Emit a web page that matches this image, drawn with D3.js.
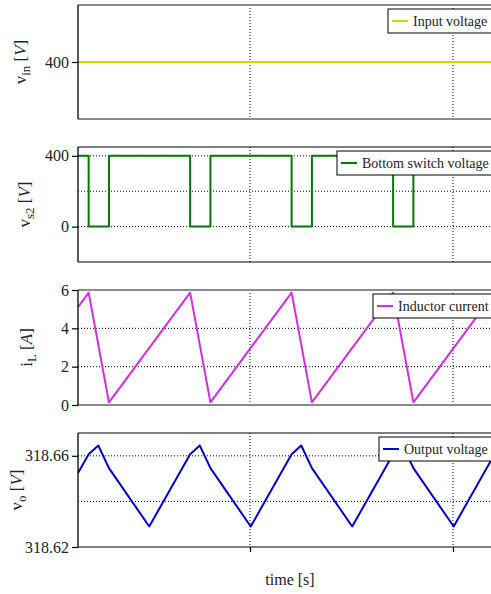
<!DOCTYPE html>
<style>
body { margin: 0; background: #fff; }
svg text { font-family: "Liberation Serif", "Times New Roman", "DejaVu Serif", serif; }
</style>
<svg width="491" height="594"></svg>
<script src="https://d3js.org/d3.v7.min.js"></script>
<script>
// time axis (arbitrary units, ticks unlabelled in the original)
const timeDomain = [3.05, 44.83];
const timeTicks = [20, 40];

// input voltage
const inTime = [3.05, 44.83];
const inVolts = [400, 400];

// bottom switch voltage (step after)
const swTime = [3.05, 4.1, 6.1, 14.1, 16.1, 24.1, 26.1, 34.1, 36.1, 44.1, 44.83];
const swVolts = [400, 0, 400, 0, 400, 0, 400, 0, 400, 0, 0];

// inductor current
const ilTime = [3.05, 4.1, 6.1, 14.1, 16.1, 24.1, 26.1, 34.1, 36.1, 44.1];
const ilAmps = [5.11, 5.86, 0.14, 5.86, 0.14, 5.86, 0.14, 5.86, 0.14, 5.86];

// output voltage
const voTime = [3.05, 4.1, 5.05, 6.1, 10.07, 14.1, 15.05, 16.1, 20.07, 24.1, 25.05, 26.1, 30.07, 34.1, 35.05, 36.1, 40.07, 44.1];
const voVolts = [318.6525, 318.6607, 318.6645, 318.6546, 318.629, 318.6607, 318.6645, 318.6546, 318.629,
                 318.6607, 318.6645, 318.6546, 318.629, 318.6607, 318.6645, 318.6546, 318.629, 318.6607];

const serif = '"Liberation Serif", "Times New Roman", "DejaVu Serif", serif';

const svg = d3.select("svg"),
      left = 78, right = 502;

const xScale = d3.scaleLinear().domain(timeDomain).range([left, right]);

const panels = [
	{ id: 'p1', top: 5, bottom: 119, domain: [350, 450], ticks: [400], grid: [400], fmt: d3.format('d'),
	  edge: '#8a8a8a', edgeW: 2, t: inTime, v: inVolts, color: '#c8dc00', step: false,
	  label: ['v', 'in', 'V'], labelX: 26, legend: 'Input voltage', legendX: 388 },
	{ id: 'p2', top: 147, bottom: 262, domain: [-200, 450], ticks: [0, 400], grid: [0, 200, 400], fmt: d3.format('d'),
	  edge: '#000', edgeW: 1.2, t: swTime, v: swVolts, color: '#007a00', step: true,
	  label: ['v', 's2', 'V'], labelX: 30, legend: 'Bottom switch voltage', legendX: 337 },
	{ id: 'p3', top: 290, bottom: 405, domain: [0, 6], ticks: [0, 2, 4, 6], grid: [2, 4], fmt: d3.format('d'),
	  edge: '#8a8a8a', edgeW: 2, t: ilTime, v: ilAmps, color: '#d22ee0', step: false,
	  label: ['i', 'L', 'A'], labelX: 32, legend: 'Inductor current', legendX: 373 },
	{ id: 'p4', top: 433, bottom: 547, domain: [318.62, 318.67], ticks: [318.62, 318.66], grid: [318.64, 318.66], fmt: d3.format('.2f'),
	  edge: '#000', edgeW: 1.2, t: voTime, v: voVolts, color: '#0000d0', step: false,
	  label: ['v', 'o', 'V'], labelX: 22, legend: 'Output voltage', legendX: 379 }
];

panels.forEach((p, i) => {
	const yScale = d3.scaleLinear().domain(p.domain).range([p.bottom, p.top]);
	const g = svg.append('g');

	svg.append('clipPath').attr('id', 'clip-' + p.id)
		.append('rect').attr('x', left).attr('y', p.top)
		.attr('width', right - left).attr('height', p.bottom - p.top);

	// dotted grid
	g.selectAll('.hgrid').data(p.grid).enter().append('line')
		.attr('x1', left).attr('x2', right)
		.attr('y1', (d) => yScale(d)).attr('y2', (d) => yScale(d))
		.attr('stroke', '#000').attr('stroke-width', 1).attr('stroke-dasharray', '1,2');
	g.selectAll('.vgrid').data(timeTicks).enter().append('line')
		.attr('x1', (d) => xScale(d)).attr('x2', (d) => xScale(d))
		.attr('y1', p.top).attr('y2', p.bottom)
		.attr('stroke', '#000').attr('stroke-width', 1).attr('stroke-dasharray', '1,2');

	// top / bottom frame
	[p.top, p.bottom].forEach((y) => {
		g.append('line').attr('x1', left).attr('x2', right).attr('y1', y).attr('y2', y)
			.attr('stroke', p.edge).attr('stroke-width', p.edgeW);
	});

	// series
	const pts = p.t.map((t, k) => ({ t, v: p.v[k] }));
	const line = d3.line()
		.x((d) => xScale(d.t))
		.y((d) => yScale(d.v))
		.curve(p.step ? d3.curveStepAfter : d3.curveLinear);
	g.append('path')
		.attr('clip-path', 'url(#clip-' + p.id + ')')
		.attr('fill', 'none')
		.attr('stroke', p.color)
		.attr('stroke-width', 2)
		.attr('stroke-linejoin', 'round')
		.attr('d', line(pts));

	// left axis
	const yAxis = d3.axisLeft(yScale).tickValues(p.ticks).tickFormat(p.fmt).tickSize(6).tickPadding(3);
	const ax = g.append('g').attr('transform', `translate(${left},0)`).call(yAxis)
		.attr('font-family', serif);
	ax.select('.domain').attr('d', `M0,${p.top}V${p.bottom}`).attr('stroke', '#000').attr('stroke-width', 1.3);
	ax.selectAll('.tick line').attr('stroke', '#000').attr('stroke-width', 1.2);
	ax.selectAll('.tick text').attr('font-size', 16).attr('fill', '#222');

	// y label
	const cy = (p.top + p.bottom) / 2;
	const lab = g.append('text')
		.attr('transform', `translate(${p.labelX},${cy}) rotate(-90)`)
		.attr('text-anchor', 'middle')
		.attr('font-family', serif)
		.attr('font-size', 17)
		.attr('fill', '#222');
	lab.append('tspan').text(p.label[0]);
	lab.append('tspan').attr('font-size', 13).attr('dy', 4).text(p.label[1]);
	lab.append('tspan').attr('dy', -4).text(' [');
	lab.append('tspan').attr('font-style', 'italic').text(p.label[2]);
	lab.append('tspan').text(']');

	// legend
	const lg = g.append('g').attr('transform', `translate(${p.legendX},${p.top + 4})`);
	const box = lg.append('rect').attr('x', 0).attr('y', 0).attr('height', 24)
		.attr('fill', '#fff').attr('stroke', '#000').attr('stroke-width', 1);
	lg.append('line').attr('x1', 4).attr('x2', 20).attr('y1', 12).attr('y2', 12)
		.attr('stroke', p.color).attr('stroke-width', 2);
	const lt = lg.append('text').attr('x', 25).attr('y', 17)
		.attr('font-family', serif)
		.attr('font-size', 14).attr('fill', '#222').text(p.legend);
	box.attr('width', 25 + lt.node().getComputedTextLength() + 8);

	// bottom time axis on the last panel
	if (i === panels.length - 1) {
		const xAxis = d3.axisBottom(xScale).tickValues(timeTicks).tickFormat('').tickSize(5);
		const bx = g.append('g').attr('transform', `translate(0,${p.bottom})`).call(xAxis);
		bx.select('.domain').remove();
		bx.selectAll('.tick line').attr('stroke', '#000').attr('stroke-width', 1.2);
	}
});

svg.append('text')
	.attr('x', (left + right) / 2)
	.attr('y', 585)
	.attr('text-anchor', 'middle')
	.attr('font-family', serif)
	.attr('font-size', 16)
	.attr('fill', '#222')
	.text('time [s]');
</script>
